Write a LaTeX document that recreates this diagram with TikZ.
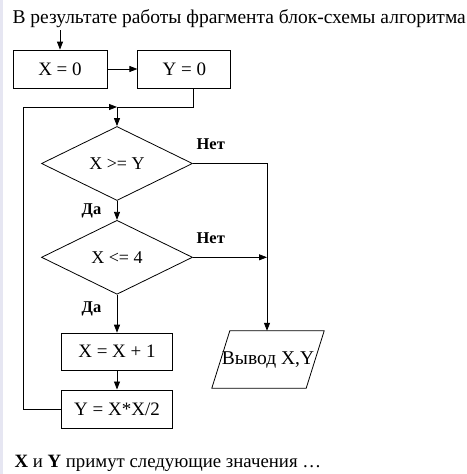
\documentclass[tikz,border=0pt]{standalone}
\usepackage{fontspec}
\setmainfont{Liberation Serif}
\usetikzlibrary{arrows.meta, positioning, shapes.geometric, calc}
\definecolor{edgeLav}{HTML}{E6E6F2}

\begin{document}
\begin{tikzpicture}[
  x=1pt, y=-1pt,
  node distance=19pt and 30pt,
  block/.style={
    rectangle, draw, line width=0.8pt,
    minimum width=#1, minimum height=38pt, inner sep=0pt,
    font=\fontsize{19}{21}\selectfont,
  },
  block/.default=94pt,
  decision/.style={
    diamond, draw, line width=0.8pt,
    minimum width=151pt, minimum height=74pt, inner sep=0pt,
    font=\fontsize{18}{20}\selectfont,
  },
  io/.style={
    rectangle, minimum width=94pt, minimum height=57pt, inner sep=0pt,
    font=\fontsize{19.5}{21}\selectfont,
  },
  arrow/.style={-{Triangle[length=8pt, width=6pt]}, line width=0.8pt},
  answer/.style={font=\bfseries\fontsize{16.5}{18}\selectfont},
  caption/.style={anchor=base west, font=\fontsize{19.5}{22}\selectfont},
]
% Frame
\fill[white] (0,0) rectangle (466,474);
\fill[edgeLav] (0,0) rectangle (2.5,474);
\useasboundingbox (0,0) rectangle (466,474);

% Question text
\node[caption] (title) at (9,23.5) {В результате работы фрагмента блок-схемы алгоритма};
\node[caption, font=\fontsize{18.8}{21}\selectfont] (result) at (11,467) {\textbf{X} и \textbf{Y} примут следующие значения …};

% Flowchart blocks
\node[block] (xzero) at (60,69) {X = 0};
\node[block=93pt, right=30pt of xzero] (yzero) {Y = 0};
\node[decision] (geq) at (117,163.5) {X >= Y};
\node[decision, below=19pt of geq] (leq) {X <= 4};
\node[block=111pt, minimum height=37pt, below=38pt of leq] (incx) {X = X + 1};
\node[block=111pt, below=19pt of incx] (ycalc) {Y = X*X/2};
\node[io] (show) at (268,359.5) {Вывод X,Y};
\draw[line width=0.8pt] ($(show.north west)+(9,0)$) -- ($(show.north east)+(9,0)$)
  -- ($(show.south east)+(-9,0)$) -- ($(show.south west)+(-9,0)$) -- cycle;

% Helper points
\coordinate (entry) at (60,30);
\coordinate (merge) at (117,107);
\coordinate (back) at (23,107);
\coordinate (rail) at (267,163.5);

% Arrows -- main line
\draw[arrow] (entry) -- (xzero);
\draw[arrow] (xzero) -- (yzero);
\draw[line width=0.8pt] ($(yzero.south)+(9.5,0)$) |- (merge);
\draw[arrow] (merge) -- (geq);
\draw[arrow] (geq) -- node[answer, midway, left=12pt] {Да} (leq);
\draw[arrow] (leq) -- node[answer, pos=0.37, left=12pt] {Да} (incx);
\draw[arrow] (incx) -- (ycalc);

% Arrows -- loop back
\draw[arrow] (ycalc.west) -- (back |- ycalc) -- (back) -- (merge);

% Arrows -- exit branch
\draw[arrow] (geq.east) -- node[answer, pos=0, above right=10pt and 0pt] {Нет} (rail) -- (rail |- show.north);
\draw[arrow] (leq.east) -- node[answer, pos=0, above right=10pt and 0pt] {Нет} (rail |- leq);

\end{tikzpicture}
\end{document}
